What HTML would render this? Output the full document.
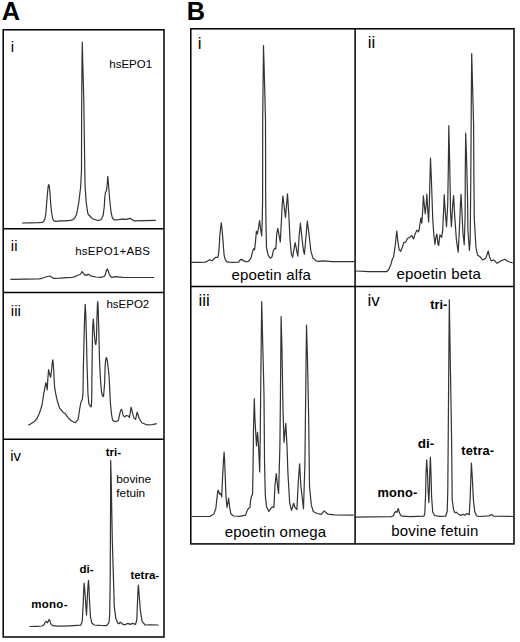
<!DOCTYPE html>
<html><head><meta charset="utf-8"><style>
html,body{margin:0;padding:0;background:#fff;width:520px;height:642px;overflow:hidden}
svg{display:block}
text{font-family:"Liberation Sans",sans-serif;fill:#000}
.fr{stroke:#000;stroke-width:1.5;fill:none}
.tr{stroke:#333;stroke-width:1.2;fill:none;stroke-linejoin:round}
.n15{font-size:15px}
.n17{font-size:17px}
.s{font-size:11.5px}
.b{font-weight:bold}
.lb{font-size:15px;letter-spacing:0.18px}
</style></head><body>
<svg width="520" height="642" viewBox="0 0 520 642">
<text x="1.8" y="19.9" class="b" font-size="25.3">A</text>
<text x="186.8" y="19.9" class="b" font-size="25.3">B</text>
<!-- Panel A frames -->
<rect class="fr" x="3.2" y="29.8" width="160.8" height="607.2"/>
<line class="fr" x1="3" y1="228.7" x2="164" y2="228.7"/>
<line class="fr" x1="3" y1="292.6" x2="164" y2="292.6"/>
<line class="fr" x1="3" y1="439.2" x2="164" y2="439.2"/>
<!-- Panel B frames -->
<rect class="fr" x="190.8" y="28.8" width="323.2" height="515.1"/>
<line class="fr" x1="355.1" y1="28.8" x2="355.1" y2="543.9"/>
<line class="fr" x1="190.8" y1="286.4" x2="514" y2="286.4"/>
<!-- A labels -->
<text x="10.8" y="52.2" class="n15">i</text>
<text x="10.8" y="251" class="n15">ii</text>
<text x="10.8" y="315.6" class="n15">iii</text>
<text x="10.2" y="461" class="n15">iv</text>
<text x="109.3" y="67.5" class="s">hsEPO1</text>
<text x="75.2" y="254.6" class="s" letter-spacing="0.25">hsEPO1+ABS</text>
<text x="106.4" y="307.5" class="s">hsEPO2</text>
<text x="105.7" y="455.5" class="s b">tri-</text>
<text x="116.3" y="482.8" font-size="11.8">bovine</text>
<text x="116.3" y="496.5" font-size="11.8">fetuin</text>
<text x="79.6" y="573.2" class="s b">di-</text>
<text x="130.4" y="578.6" class="s b">tetra-</text>
<text x="31.2" y="608" class="s b" letter-spacing="0.3">mono-</text>
<!-- B labels -->
<text x="197.8" y="48.9" class="n17">i</text>
<text x="367.7" y="48.4" class="n17">ii</text>
<text x="198.5" y="305.5" class="n17">iii</text>
<text x="367.6" y="305.9" class="n17">iv</text>
<text x="231.4" y="279.7" class="lb">epoetin alfa</text>
<text x="396.4" y="279.2" class="lb">epoetin beta</text>
<text x="224.8" y="536.5" class="lb">epoetin omega</text>
<text x="391.2" y="535.5" class="lb">bovine fetuin</text>
<text x="430.2" y="309.2" class="b" font-size="12.8">tri-</text>
<text x="417.8" y="448.2" class="b" font-size="13.5">di-</text>
<text x="461.3" y="455.3" class="b" font-size="12.8" letter-spacing="0.15">tetra-</text>
<text x="377.4" y="497.3" class="b" font-size="12.8" letter-spacing="0.2">mono-</text>
<!-- traces -->
<polyline class="tr" points="22,223 30,222.8 38,222.6 42.5,222.3 44,221 45,218.5 45.8,214 46.5,205 47.5,193 48.2,186 48.7,184.5 49.3,186 50,193 50.8,205 51.8,214 52.8,219 54,220.8 56,221.3 60,220.9 65,220.8 70,220.4 72.5,219.8 74.5,218.6 76.7,214 78.8,202.4 80.7,186.5 81.5,170 81.6,120 82,60 82.3,42 82.7,60 83.8,100 84.8,170 85.1,186.5 86.2,202.4 87.4,211 88.2,214.5 89.9,216 92.5,218.8 96.8,220.3 100,220.1 101.6,218.8 103.2,215.2 104.3,206.1 104.8,197.1 105.5,192.5 106.6,190.3 107.3,183 107.8,176.3 108.3,182 108.8,188 109.7,199.8 111.1,212.5 112.5,218.3 114.3,219.9 118.8,219.7 122.4,219.2 126,219.3 130,218.3 134.2,220.9 144.2,220.6 155.8,220.3"/>
<polyline class="tr" points="10.4,279.3 25,279.1 38.8,278.8 42,278.3 45,277.3 47.5,276.5 49.6,276 51.5,277 53.9,278.4 60,278.2 67,277.7 72.7,277.3 75,276.6 77.3,275.5 80.4,274.3 81.2,273 81.9,271.6 82.8,272.5 84.1,274.4 86.5,275.4 88.5,274.3 91.4,276.2 96,277 101.2,277.4 104.5,276.2 105.5,274 106.1,271.3 107.3,268.9 108.3,271 109.4,274.6 111,276.8 111.9,277.4 116,276.6 122.5,277.4 135,277.5 154.3,277.5"/>
<polyline class="tr" points="28.2,425.2 31,423.7 34.4,421.6 37,418.5 39.4,413.2 41,408.5 42.1,404.5 43,399 43.7,393.6 44.8,388.2 45.9,382.7 46.6,386 47.2,389.8 47.9,378 48.6,369.6 49.5,374 50.6,377.3 51.6,370 52.3,362 52.8,359.8 53.3,364 53.8,371.8 54.2,380 54.6,387.1 55.7,393.6 57.4,401.3 59.5,407.8 63.4,412.7 65,413.4 68.3,417.8 71.5,421 75.4,422.7 78.1,419.4 79.7,409 80.8,402.5 82.4,399.3 83,392.7 83.3,371 84,340 84.7,315 85.2,304.3 85.8,315 86.5,340 86.9,360 87.9,392.7 88.8,403.6 90,406 91.2,406.9 91.7,400 92,370 92.4,340 92.8,325 93.3,319 93.8,325 94.5,336 95.2,343 95.8,344.6 96.4,340 96.9,320 97.4,305 97.7,301.5 98.1,306 98.8,330 99.5,360 100.5,380 101.5,392 102.5,396 103.5,396.5 104.5,385 105.2,365 105.8,359 106.5,357.5 107.5,362 109,375 110.4,403 111.5,414 112.5,420 114.9,421.7 118.25,420.6 119.5,415 120.5,411 121.4,409.2 122.2,411 123,415 124.5,416.9 126.4,415.5 128.3,416 129.5,417.4 130.3,412 131,407.3 131.6,409 132.2,412.1 133.9,417.9 135.6,419.3 136.5,415 137.2,412.1 138,414.5 138.9,417.9 141.8,422.7 146.6,424.8 152.4,424.6 156.7,423.7"/>
<polyline class="tr" points="29.5,626.5 36,626.3 42.2,626 44.1,624.5 45.2,622.3 46.3,621.4 47.6,622.9 48.5,620.5 49.2,619.5 50,621 50.5,622.9 51.4,624.8 53.2,625.7 57,626.1 62,626.1 70,625.8 80.8,625.2 82.2,621.2 83.2,603.8 83.7,590 84.1,583.2 84.6,588 85.4,599 86,608 86.5,614.9 87,605 87.5,594.2 88,586 88.5,580.3 89,588 89.4,599 90.4,616.3 91.8,623 94.2,625 100,625.4 106.6,625.6 109,622.7 109.7,613.5 110.2,580 110.5,520 110.7,460.5 111.2,480 112.3,540 113.2,570 114.3,606.7 115.8,618.3 117.7,623.1 119.2,623.6 120.3,622.2 122.5,624.1 125,624.8 127.9,623.4 130,624.4 132.6,623.4 135.5,624.4 136.8,620 137.6,599 138,590 138.4,585.1 138.8,590 139.3,597.3 140.5,611.6 142.2,621.7 145.2,625 150.2,624.9 158.6,625"/>
<!-- /traceA -->
<polyline class="tr" points="191,262.4 198,262.3 205.3,262.1 207.5,261 209.6,259.7 211,260.3 212.2,260.7 213.8,259 215.4,257.3 217.7,257.5 218.6,254.2 219.3,245 219.8,236.2 220.6,228 221.3,222.9 222,229 222.8,238.3 224.1,255.2 225.2,259.5 226.5,261.6 229,262.2 232.3,262.4 238.7,262.1 240.6,259.4 241.9,260 242.1,259.3 243.4,261 244.2,260.9 246.4,262 249,260.9 251.1,257.7 252.5,251.9 253.6,248.7 254.6,249.8 255.4,242.4 256.4,231.3 257.5,233.9 258.5,227.5 259.6,220.7 260.7,229.7 261.7,236 262.2,221.2 262.6,200 262.7,120 263.5,45.6 264.2,70 265.5,120 265.7,200 266,225 266.5,247.7 268.1,255 270.2,258.3 271.8,257.2 272.5,255 273.2,251 274.5,248.4 275.8,249 276.7,234.2 277.8,228.3 279.1,235.5 280.3,241.9 281.6,217.3 282.3,203 282.9,196 284.2,207 285.5,217.3 286.6,204.4 287.5,193.8 288.8,214.8 290,239.3 291.3,253.6 292.6,257.4 293.9,249.7 295.2,242.6 296.5,249.7 297.8,256.2 299.1,236.7 300.4,223.2 302.1,239.3 303.4,250 304.4,254.3 305.9,237.7 307.3,221 308.8,232.3 310.8,250.6 312.9,258.1 316.1,260.8 318.8,261.4 323.1,260.8 332.3,261.6 354,261.6"/>
<polyline class="tr" points="356,271 369.4,271.7 386.7,271.7 388.7,269.5 391,264.2 392.5,258.5 393.5,257 394.4,251.7 395.4,244 396.1,237 396.8,231 397.8,241.2 399.2,249.8 400.7,251.25 402.2,247.6 403.8,242.7 405.5,242.2 407.6,238.3 409.3,237.6 410.9,236.2 411.8,235.6 413.6,238.9 415.3,233.4 416.9,230.2 418.5,231.8 419.4,228 420.2,222.5 420.9,218.2 421.8,223.1 422.7,210.5 423.4,195.8 424.5,207.3 425.3,213.8 426.2,204 426.9,194.2 427.8,210.5 428.6,222 429.4,201.8 429.8,185 430.5,158.2 431.4,180 432.1,200 432.7,218.2 433.8,234.5 434.9,244.3 436,236.7 436.9,234 438,244.3 438.7,245.4 439.9,234.8 441.7,237.3 442.7,229.8 443.6,211.1 444.2,194.7 445.2,211 446.5,226.7 447.7,204.9 448.3,170 448.8,125.5 449.6,160 450.2,190 450.5,211 451.4,226.7 452.7,204.9 453.6,195.6 454.8,217.4 456.4,239.8 458.2,252.2 459.4,229.8 460.4,204.9 461,194.3 461.9,211 462.9,232.3 464.2,244.8 465.1,217.4 465.3,170 465.7,133.2 466.6,160 467.6,200 467.9,229.8 469.4,250.5 470.2,240 470.8,180 471.3,100 471.7,53.6 472.4,80 473.6,125 473.9,180 474.3,219 475.9,247 477.5,255.1 480,256.7 482.5,260 485.7,258.4 486.9,255.1 488.2,251 489.5,256.7 491.1,260.8 493.9,260 497.2,263.3 501.3,260.8 504.6,259.2 507.8,261.3 512.7,263"/>
<polyline class="tr" points="191.6,516.5 200,516.5 209.8,516.5 213.8,514.1 215.8,508.8 217.1,496.9 218,490 219.8,494.2 220.7,493.6 221.7,496.9 222.8,473 223.5,460 224.1,452.2 224.6,460 225.1,473 226,496.9 227,507.5 228,502.2 228.6,498.2 229.7,507.5 231,514.1 233.7,516 240,516.3 245.6,515.1 247.1,510.6 248.6,508.3 249.9,507.5 250.6,500.4 251.6,495.9 252.6,494.4 253,470 253.5,430 254.3,398.7 255,420 256.5,446 257.5,432.3 258.5,445 259.7,472 260.2,440 260.8,380 261.7,301.5 262.4,330 264,395 264.5,460 265.3,495.4 266.5,506.5 268.8,511.4 270.8,508.5 272.6,506.7 273.9,507.5 275,485.3 276.3,473.6 277.5,485.3 278.6,493.3 279.9,445.8 280.4,400 281.1,316.6 282,350 283,410 284,442.3 285.8,423.4 287,445.8 287.9,472.7 289.7,503.2 291.5,510.4 293.7,503.2 295.1,507.7 296.9,509.5 298.3,481.7 299.6,463.8 300.8,485.3 303.5,508.8 304.9,463.8 305.4,420 306.5,325.1 307.5,360 308.7,420 309.5,486.4 311.3,504.9 313.2,511.5 317.2,513.5 321.2,514.4 324.2,510.9 327.8,514.2 334.4,514.8 353.6,515.2"/>
<polyline class="tr" points="356,517.1 370,516.9 391.5,516.6 393.5,515.7 394.4,512.8 395.9,511.5 397,512.3 398.3,508.5 399.4,512.8 400.7,515.2 402.1,516.2 410,516.6 424,516.1 424.8,513.2 425.5,496.8 426,473.4 426.7,459.9 427.5,473.4 428.1,491 428.9,502.6 429.5,485.1 429.9,467.5 430.4,457 431,473.4 431.6,496.8 432.7,512 434.5,515.5 439.8,516.4 445.6,516.2 447.2,511.5 447.8,490 448.2,440 449.3,299.7 450.6,380 451.6,440 452.2,499.6 453.5,509.5 454.9,512.8 456.2,512.2 458.2,513.9 460.8,515.5 462.8,514.2 464.8,515.2 466.8,513.5 469.2,514.8 470.1,499.6 470.8,479.7 471.4,463.2 472.4,479.7 473.4,499.6 474.7,511.5 476.5,515.8 478.7,516.5 489,515.9 491.6,514.5 493.8,516.2 513.3,516.5"/>
<!-- /traceB -->
</svg>
</body></html>
